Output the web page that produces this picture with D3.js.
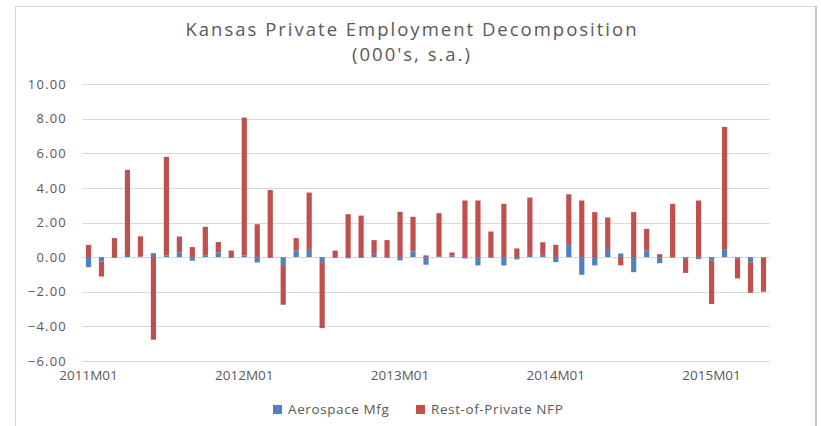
<!DOCTYPE html>
<html>
<head>
<meta charset="utf-8">
<script src="https://cdn.jsdelivr.net/npm/d3@7"></script>
<style>
  html, body { margin: 0; padding: 0; background: #ffffff; }
  svg { display: block; }
  text { font-family: "Open Sans", "Noto Sans", sans-serif; fill: #595959; }
</style>
</head>
<body>
<svg id="chart" width="821" height="426"></svg>
<script>
// Monthly change in Kansas private employment (thousands, seasonally adjusted)
const years = [2011, 2012, 2013, 2014, 2015];
const categories = [];
years.forEach(y => {
  for (let m = 1; m <= 12; m++) {
    if (y === 2015 && m > 5) break;
    categories.push(y + "M" + String(m).padStart(2, "0"));
  }
});

const aerospace = [
  -0.58, -0.25, -0.05, 0.12, 0.03, 0.23, 0.10, 0.27, -0.21, 0.08, 0.27, -0.05,
  0.10, -0.31, -0.05, -0.46, 0.38, 0.42, -0.29, -0.05, -0.07, -0.05, 0.19, -0.04,
  -0.19, 0.33, -0.44, 0.02, 0.08, -0.08, -0.48, -0.04, -0.48, -0.13, 0.12, 0.13,
  -0.29, 0.75, -1.02, -0.48, 0.46, 0.21, -0.87, 0.37, -0.35, -0.03, -0.10, -0.12,
  -0.21, 0.46, -0.08, -0.29, -0.02
];
const restPrivate = [
  0.70, -0.87, 1.10, 4.92, 1.17, -4.77, 5.69, 0.92, 0.58, 1.67, 0.60, 0.38,
  7.96, 1.90, 3.88, -2.29, 0.72, 3.31, -3.81, 0.38, 2.48, 2.40, 0.79, 0.98,
  2.62, 2.00, 0.10, 2.52, 0.19, 3.27, 3.27, 1.48, 3.08, 0.50, 3.32, 0.73,
  0.71, 2.88, 3.27, 2.60, 1.83, -0.48, 2.60, 1.26, 0.17, 3.08, -0.81, 3.27,
  -2.50, 7.06, -1.15, -1.77, -1.98
];
const seriesNames = ["Aerospace Mfg", "Rest-of-Private NFP"];
const seriesColors = ["#4f81bd", "#c0504d"];
const yTicks = [-6, -4, -2, 0, 2, 4, 6, 8, 10];
const xTickLabels = ["2011M01", "2012M01", "2013M01", "2014M01", "2015M01"];

const svg = d3.select("#chart");

// outer chart frame
svg.append("rect")
  .attr("x", 15.5).attr("y", 6.5).attr("width", 800).attr("height", 430)
  .attr("fill", "#ffffff").attr("stroke", "#d9d9d9").attr("stroke-width", 1);
svg.append("line")
  .attr("x1", 816).attr("x2", 816).attr("y1", 6).attr("y2", 426)
  .attr("stroke", "#c8c8c8").attr("stroke-width", 2);

const plot = { left: 82, right: 770, top: 84, bottom: 361 };

const x = d3.scaleBand()
  .domain(categories)
  .range([plot.left, plot.right])
  .paddingInner(0.6)
  .paddingOuter(0.3);

const y = d3.scaleLinear()
  .domain([-6, 10])
  .range([plot.bottom, plot.top]);

// gridlines
svg.append("g")
  .selectAll("line")
  .data(yTicks)
  .join("line")
  .attr("x1", plot.left).attr("x2", plot.right)
  .attr("y1", d => Math.round(y(d)) + 0.5).attr("y2", d => Math.round(y(d)) + 0.5)
  .attr("stroke", "#d9d9d9").attr("stroke-width", 1);

// y axis labels
const yAxis = d3.axisLeft(y).tickValues(yTicks).tickFormat(d3.format(".2f")).tickSize(0).tickPadding(0);
const gy = svg.append("g").attr("transform", `translate(${plot.left - 15},0)`).call(yAxis);
gy.select(".domain").remove();
gy.selectAll("text").attr("font-size", 13).attr("fill", "#595959")
  .attr("letter-spacing", 1.2)
  .style("font-family", "'Open Sans', sans-serif");

// stacked bars, positive and negative parts stacked away from zero
const rows = categories.map((c, i) => ({ cat: c, aero: aerospace[i], rest: restPrivate[i] }));
const stacked = d3.stack()
  .keys(["aero", "rest"])
  .offset(d3.stackOffsetDiverging)(rows);

svg.append("g")
  .selectAll("g")
  .data(stacked)
  .join("g")
  .attr("fill", (d, i) => seriesColors[i])
  .selectAll("rect")
  .data(d => d)
  .join("rect")
  .attr("x", d => x(d.data.cat))
  .attr("width", x.bandwidth())
  .attr("y", d => y(Math.max(d[0], d[1])))
  .attr("height", d => Math.abs(y(d[0]) - y(d[1])));

// x axis labels (every 12 months)
const xAxis = d3.axisBottom(x).tickValues(xTickLabels).tickSize(0).tickPadding(0);
const gx = svg.append("g").attr("transform", `translate(0,${plot.bottom + 9})`).call(xAxis);
gx.select(".domain").remove();
gx.selectAll("text").attr("font-size", 13.5).attr("fill", "#595959")
  .style("font-family", "'Open Sans', sans-serif");

// title, two lines
const titleLines = ["Kansas Private Employment Decomposition", "(000's, s.a.)"];
const titleBaselines = [36, 61];
svg.append("g")
  .selectAll("text")
  .data(titleLines)
  .join("text")
  .attr("x", 412)
  .attr("y", (d, i) => titleBaselines[i])
  .attr("text-anchor", "middle")
  .attr("font-size", 18.5)
  .attr("letter-spacing", 2)
  .attr("fill", "#595959")
  .text(d => d);

// legend
const legend = svg.append("g").attr("transform", "translate(273,405)");
const legendX = [0, 143];
seriesNames.forEach((name, i) => {
  const g = legend.append("g").attr("transform", `translate(${legendX[i]},0)`);
  g.append("rect").attr("width", 9).attr("height", 9).attr("fill", seriesColors[i]);
  g.append("text").attr("x", 15).attr("y", 9).attr("font-size", 13.5)
    .attr("letter-spacing", 0.6).text(name);
});
</script>
</body>
</html>
